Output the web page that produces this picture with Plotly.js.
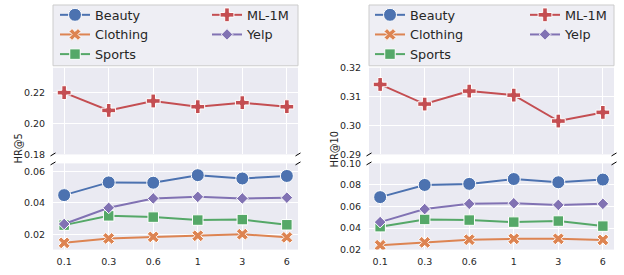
<!DOCTYPE html>
<html>
<head>
<meta charset="utf-8">
<script src="https://cdn.plot.ly/plotly-3.0.1.min.js"></script>
<style>html,body{margin:0;padding:0;background:#fff;}#chart{width:624px;height:275px;}</style>
</head>
<body>
<div id="chart"></div>
<script>
// ---- data ----
const categories = ['0.1', '0.3', '0.6', '1', '3', '6'];
const seriesNames = ['Beauty', 'Clothing', 'Sports', 'ML-1M', 'Yelp'];

const hr5_Beauty   = [0.0449, 0.0530, 0.0528, 0.0576, 0.0555, 0.0571];
const hr5_Clothing = [0.0145, 0.0173, 0.0183, 0.0190, 0.0200, 0.0180];
const hr5_Sports   = [0.0258, 0.0317, 0.0309, 0.0290, 0.0293, 0.0260];
const hr5_ML1M     = [0.2200, 0.2085, 0.2146, 0.2109, 0.2135, 0.2109];
const hr5_Yelp     = [0.0265, 0.0368, 0.0428, 0.0438, 0.0428, 0.0433];

const hr10_Beauty   = [0.0687, 0.0800, 0.0810, 0.0855, 0.0825, 0.0850];
const hr10_Clothing = [0.0240, 0.0267, 0.0292, 0.0300, 0.0300, 0.0290];
const hr10_Sports   = [0.0413, 0.0480, 0.0474, 0.0455, 0.0465, 0.0418];
const hr10_ML1M     = [0.3143, 0.3075, 0.3120, 0.3106, 0.3016, 0.3046];
const hr10_Yelp     = [0.0455, 0.0576, 0.0625, 0.0630, 0.0615, 0.0625];

const leftTicksTop = [0.18, 0.20, 0.22];
const leftTicksBottom = [0.02, 0.04, 0.06];
const rightTicksTop = [0.29, 0.30, 0.31, 0.32];
const rightTicksBottom = [0.02, 0.04, 0.06, 0.08, 0.10];

// ---- styles ----
const colors = {Beauty:'#4C72B0', Clothing:'#DD8452', Sports:'#55A868', 'ML-1M':'#C44E52', Yelp:'#8172B3'};
const symbols = {Beauty:'circle', Clothing:'x', Sports:'square', 'ML-1M':'cross', Yelp:'diamond'};
const msize = {Beauty:13, Clothing:10.5, Sports:10.5, 'ML-1M':11.5, Yelp:9};
const rank = {Beauty:1, Clothing:2, Sports:3, 'ML-1M':1, Yelp:2};
const column = {Beauty:0, Clothing:0, Sports:0, 'ML-1M':1, Yelp:1};

const W = 624, H = 275;
const px = x => x / W;
const py = y => 1 - y / H;

const LX = [53, 298], RX = [369, 614];
const TOPY = [67, 154], BOTY = [163, 249.5];

// legend ids: left panel col0 -> legend, col1 -> legend2; right panel col0 -> legend3, col1 -> legend4
function legendId(panel, name) {
  const idx = panel * 2 + column[name];
  return idx === 0 ? 'legend' : 'legend' + (idx + 1);
}

function mk(name, y, xa, ya, panel) {
  return {
    type: 'scatter', mode: 'lines+markers', name: name,
    x: categories, y: y, xaxis: xa, yaxis: ya, legend: legendId(panel, name),
    legendrank: rank[name],
    line: {color: colors[name], width: 2},
    marker: {symbol: symbols[name], size: msize[name], color: colors[name], line: {color: '#ffffff', width: 1}},
    hoverinfo: 'x+y+name'
  };
}

const data = [
  mk('Beauty', hr5_Beauty, 'x', 'y', 0),
  mk('Clothing', hr5_Clothing, 'x', 'y', 0),
  mk('Sports', hr5_Sports, 'x', 'y', 0),
  mk('ML-1M', hr5_ML1M, 'x2', 'y2', 0),
  mk('Yelp', hr5_Yelp, 'x', 'y', 0),
  mk('Beauty', hr10_Beauty, 'x3', 'y3', 1),
  mk('Clothing', hr10_Clothing, 'x3', 'y3', 1),
  mk('Sports', hr10_Sports, 'x3', 'y3', 1),
  mk('ML-1M', hr10_ML1M, 'x4', 'y4', 1),
  mk('Yelp', hr10_Yelp, 'x3', 'y3', 1)
];

const textColor = '#262626';
const font = {family: 'DejaVu Sans', size: 9.5, color: textColor};

function xax(dom, anchor, showLabels) {
  return {
    domain: [px(dom[0]), px(dom[1])], anchor: anchor,
    type: 'category', categoryorder: 'array', categoryarray: categories,
    range: [-0.25, 5.25], showgrid: true, gridcolor: '#ffffff', gridwidth: 1,
    zeroline: false, showline: false, showticklabels: showLabels,
    ticks: showLabels ? 'outside' : '', ticklen: 3, tickcolor: 'rgba(0,0,0,0)',
    tickfont: font, fixedrange: true
  };
}
function yax(dom, anchor, range, ticks) {
  return {
    domain: [py(dom[1]), py(dom[0])], anchor: anchor, range: range,
    tickvals: ticks, tickformat: '.2f', showgrid: true, gridcolor: '#ffffff', gridwidth: 1,
    zeroline: false, showline: false, ticks: 'outside', ticklen: 5, tickcolor: 'rgba(0,0,0,0)',
    tickfont: font, fixedrange: true
  };
}

// break marks and legend frames
const shapes = [];
function brk(xp, yp) {
  shapes.push({type: 'line', xref: 'paper', yref: 'paper',
    x0: px(xp - 2.5), y0: py(yp + 1.5), x1: px(xp + 2.5), y1: py(yp - 1.5),
    line: {color: '#000000', width: 1}});
}
[LX, RX].forEach(X => {
  [X[0], X[1]].forEach(xx => { brk(xx, TOPY[1]); brk(xx, BOTY[0]); });
});
[LX, RX].forEach(X => {
  shapes.push({type: 'rect', xref: 'paper', yref: 'paper', layer: 'above',
    x0: px(X[0]), x1: px(X[1]), y0: py(65), y1: py(4),
    fillcolor: '#EEEEF4', line: {color: '#CCCCCC', width: 1}});
});

function legendCfg(xpix) {
  return {
    x: px(xpix), xanchor: 'left', y: py(-1), yanchor: 'top',
    orientation: 'v', bgcolor: 'rgba(0,0,0,0)', borderwidth: 0,
    font: {family: 'DejaVu Sans', size: 12.8, color: textColor},
    itemsizing: 'trace', traceorder: 'normal', tracegroupgap: 0
  };
}

const layout = {
  width: W, height: H,
  margin: {l: 0, r: 0, t: 0, b: 0},
  paper_bgcolor: '#ffffff', plot_bgcolor: '#EAEAF2',
  font: {family: 'DejaVu Sans', color: textColor},
  showlegend: true,
  xaxis: xax(LX, 'y', true),
  yaxis: yax(BOTY, 'x', [0.0102, 0.0651], leftTicksBottom),
  xaxis2: xax(LX, 'y2', false),
  yaxis2: yax(TOPY, 'x2', [0.18, 0.2361], leftTicksTop),
  xaxis3: xax(RX, 'y3', true),
  yaxis3: yax(BOTY, 'x3', [0.02, 0.1], rightTicksBottom),
  xaxis4: xax(RX, 'y4', false),
  yaxis4: yax(TOPY, 'x4', [0.29, 0.3201], rightTicksTop),
  legend: legendCfg(55),
  legend2: legendCfg(207),
  legend3: legendCfg(370),
  legend4: legendCfg(525),
  shapes: shapes,
  annotations: [
    {text: 'HR@5', xref: 'paper', yref: 'paper', x: px(18), y: py(148), textangle: -90,
     showarrow: false, xanchor: 'center', yanchor: 'middle', font: {family: 'DejaVu Sans', size: 9.8, color: textColor}},
    {text: 'HR@10', xref: 'paper', yref: 'paper', x: px(334), y: py(149), textangle: -90,
     showarrow: false, xanchor: 'center', yanchor: 'middle', font: {family: 'DejaVu Sans', size: 9.8, color: textColor}}
  ]
};

Plotly.newPlot('chart', data, layout, {displayModeBar: false, staticPlot: true});
</script>
</body>
</html>
